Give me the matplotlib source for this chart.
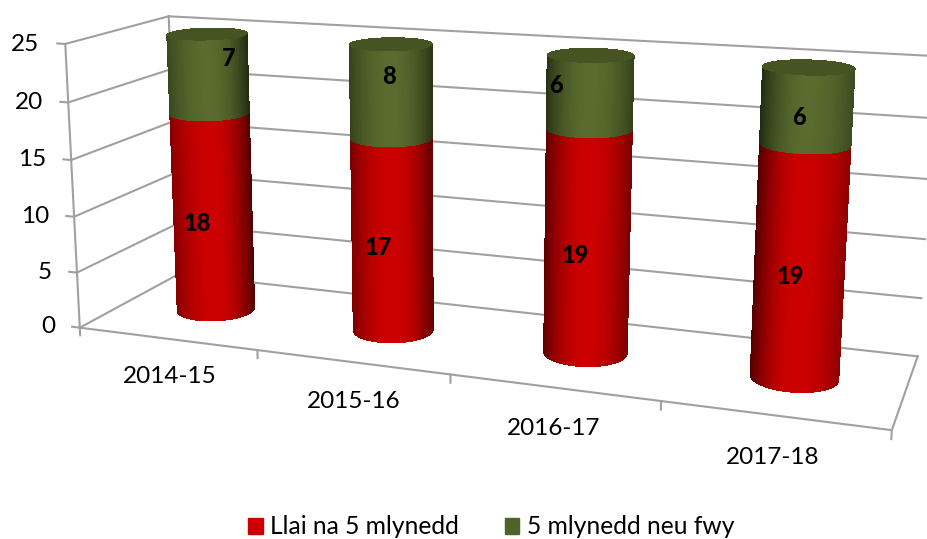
import numpy as np
import matplotlib
matplotlib.use('Agg')
import matplotlib.pyplot as plt
from matplotlib.patches import Patch
from mpl_toolkits.mplot3d import proj3d

categories = ['2014-15', '2015-16', '2016-17', '2017-18']
llai = [18, 17, 19, 19]
pump = [7, 8, 6, 6]
series_names = ['Llai na 5 mlynedd', '5 mlynedd neu fwy']
zticks = [0, 5, 10, 15, 20, 25]

RED = np.array([0.80, 0.0, 0.0])
GREEN = np.array([0.35, 0.42, 0.18])
GREY = '#a0a0a0'
RX, RY, CY = 0.20, 0.20, 0.51
# how dark each bar gets at its left and right edge
dark_left = [0.35, 0.40, 0.55, 0.62]
dark_right = [0.62, 0.55, 0.42, 0.32]
# data labels are not centred in the reference, pixel shifts
llai_shift = [(-16, 11), (-14, 12), (-12, 13), (-9, 14)]
pump_shift = [(20, -15), (-2, -15), (-34, -7), (-8, 12)]
plt.rcParams['font.family'] = ['Lato', 'DejaVu Sans']

# camera calibration: box corners and where they sit in the picture
box_pts = [(0,0,0), (1,0,0), (2,0,0), (3,0,0), (4,0,0),
           (0,0,5), (0,0,10), (0,0,15), (0,0,20), (0,0,25),
           (0,1,0), (0,1,10), (0,1,15), (0,1,20), (0,1,25),
           (4,1,0), (4,1,5), (4,1,10), (4,1,15), (4,1,20), (4,1,25)]
pic_pts = [(82,326), (259,350), (450,376), (661,405), (890,432),
           (78,271), (75,215), (72,160), (67,102), (62,43),
           (175,275), (173,175), (172,123), (172,71), (172,15),
           (918,352), (923,297), (925.5,238), (929,180), (932,118), (936,57)]

fig = plt.figure(figsize=(9.27, 5.39), dpi=100)
ax = fig.add_axes([0, -194/539, 1, 927/539], projection='3d', computed_zorder=False)
ax.set_xlim(0, 4)
ax.set_ylim(0, 1)
ax.set_zlim(0, 25)
ax.set_axis_off()
ax.patch.set_alpha(0)

# solve a projection matrix for the skewed view excel uses
uv = ax.transData.inverted().transform([(px, 539 - py) for px, py in pic_pts])*10
rows = []
for (x, y, z), (u, v) in zip(box_pts, uv):
    p = [x/4, y, z/25, 1]
    rows.append(p + [0, 0, 0, 0] + [-u*c for c in p])
    rows.append([0, 0, 0, 0] + p + [-v*c for c in p])
P = np.linalg.svd(np.array(rows))[2][-1].reshape(3, 4)
P = P @ np.diag([1/4, 1, 1/25, 1])
w_mean = np.mean([P[2] @ [x, y, z, 1] for x, y, z in box_pts])
P = P*np.sign(w_mean)
w_mean = abs(w_mean)
# depth has to stay negative or mplot3d clips the lines
M = np.vstack([P[0]*0.1, P[1]*0.1, P[2] - [0, 0, 0, 3*w_mean], P[2]])
ax.M = M
ax.get_proj = lambda: M
cam = np.linalg.svd(P)[2][-1]
cam = cam[:3]/cam[3]

def line(xs, ys, zs):
    ax.plot(xs, ys, zs, color=GREY, lw=1.5, zorder=1)

def label(x, y, z, s, dx=0, dy=0, **kw):
    # text goes on the 2d layer at the projected place
    x2, y2, _ = proj3d.proj_transform(x, y, z, M)
    ax.annotate(s, (x2, y2), xytext=(dx*0.72, -dy*0.72), textcoords='offset points',
                ha=kw.pop('ha', 'center'), va='center', zorder=10, **kw)

# walls and floor
for z in zticks:
    line([-0.045, 0, 0], [0, 0, 1], [z, z, z])
    line([0, 4], [1, 1], [z, z])
    label(-0.135, 0, z, str(z), dx=-2, dy=2, ha='right', fontsize=17.5)
line([0, 0], [0, 0], [0, 25])
line([0, 0], [1, 1], [0, 25])
line([0, 4, 4], [0, 0, 1], [0, 0, 0])
for i in range(5):
    line([i, i], [0, 0], [0, -0.7])
for i, c in enumerate(categories):
    label(i + 0.5, 0, -3.4, c, dx=1, fontsize=17.5)

def shaded(base, theta, i):
    # bright in the middle of the visible side, darker to the edges
    t0 = np.arctan2((cam[1] - CY)/RY, (i + 0.5 - cam[0])/-RX)
    s = np.sin(theta - t0)
    k = np.where(s < 0, 1 - dark_left[i]*s**2, 1 - dark_right[i]*s**2)
    return np.clip(k[..., None]*base, 0, 1)

def cylinder(i, z0, z1, base, zo):
    th = np.linspace(0, 2*np.pi, 121)
    T, Z = np.meshgrid(th, [z0, z1])
    X = i + 0.5 + RX*np.cos(T)
    Y = CY + RY*np.sin(T)
    tm = (T[:-1, :-1] + T[1:, 1:])/2
    ax.plot_surface(X, Y, Z, facecolors=shaded(base, tm, i), shade=False, linewidth=0,
                    antialiased=False, rstride=1, cstride=1, zorder=zo)

for i in range(4):
    top = llai[i] + pump[i]
    cylinder(i, 0, llai[i], RED, 2)
    cylinder(i, llai[i], top, GREEN, 3)
    # cap
    th = np.linspace(0, 2*np.pi, 61)
    R, T = np.meshgrid([0, 1], th)
    ax.plot_surface(i + 0.5 + R*RX*np.cos(T), CY + R*RY*np.sin(T), np.full_like(R, top, dtype=float),
                    color=GREEN*0.78, shade=False, linewidth=0, antialiased=False, zorder=4)
    label(i + 0.5, CY, llai[i]/2, str(llai[i]), *llai_shift[i], fontsize=17, fontweight='black')
    label(i + 0.5, CY, llai[i] + pump[i]/2, str(pump[i]), *pump_shift[i], fontsize=17, fontweight='black')

handles = [Patch(color=RED, label=series_names[0]), Patch(color=np.array([0.31, 0.385, 0.157]), label=series_names[1])]
fig.legend(handles=handles, loc='lower center', ncol=2, frameon=False, fontsize=17.7,
           bbox_to_anchor=(0.530, -0.04), handlelength=0.6, handleheight=0.6, handletextpad=0.3, columnspacing=1.85)
fig.savefig('out.png', dpi=100)
